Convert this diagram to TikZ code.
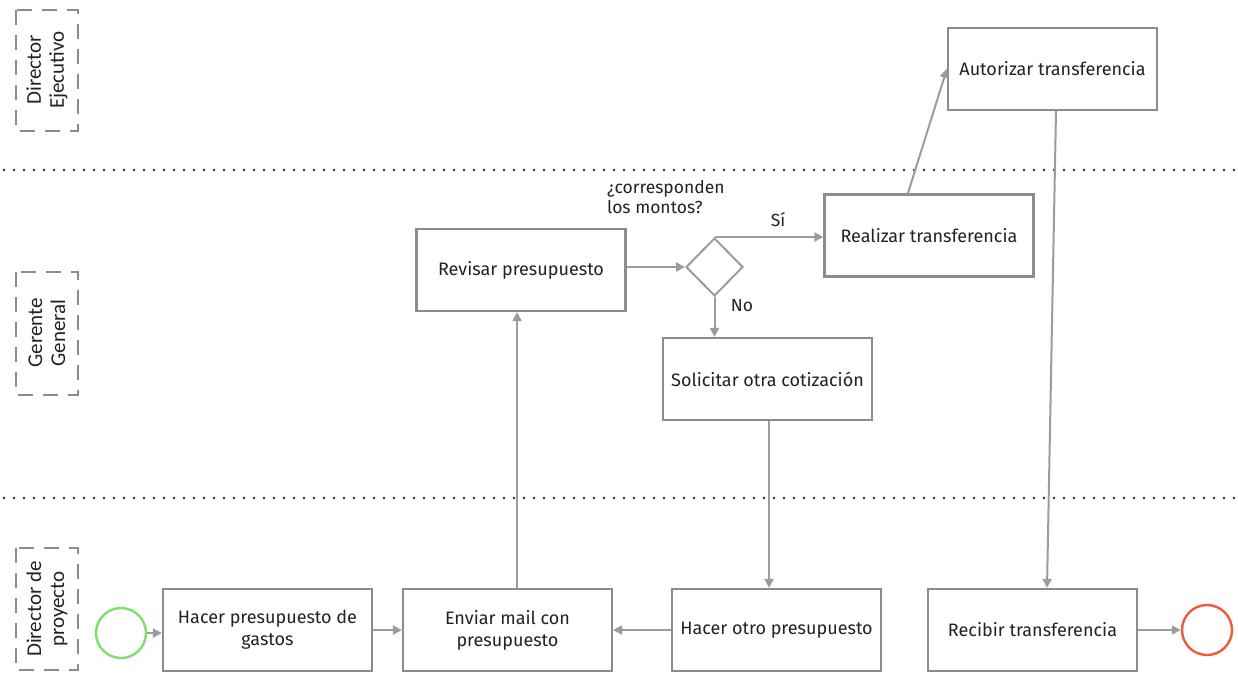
\documentclass[tikz,border=0pt]{standalone}
\usepackage{fontspec}
\setmainfont{Fira Sans}
\newfontfamily\lanefont{Carlito}
\usetikzlibrary{shapes.geometric,arrows.meta,calc}
\definecolor{edge}{HTML}{8C8C8C}
\definecolor{flow}{HTML}{9A9C9F}
\definecolor{txt}{HTML}{222222}
\definecolor{startc}{HTML}{7EE06A}
\definecolor{endc}{HTML}{EE5A3A}
\tikzset{
  task/.style={draw=edge, line width=2.2pt, fill=white, minimum width=209pt, minimum height=82pt,
    align=center, text=txt, font=\fontsize{18}{22}\selectfont, inner sep=2pt},
  gate/.style={draw=flow, line width=2pt, diamond, minimum width=57pt, minimum height=58pt, inner sep=0pt},
  flowline/.style={draw=flow, line width=2pt, -{Triangle[length=9pt,width=9pt]}},
  lanebox/.style={draw=edge, line width=2.4pt, dash pattern=on 15pt off 10pt},
  lanetext/.style={rotate=90, align=center, text=txt, font=\lanefont\fontsize{21}{23}\selectfont},
  divider/.style={line width=2.8pt, dash pattern=on 0pt off 10pt, line cap=round, draw=black!85},
  lbl/.style={text=txt, font=\fontsize{17.5}{20}\selectfont, align=left, inner sep=0pt},
  event/.style={circle, line width=2.4pt, minimum size=50pt, inner sep=0pt, fill=white}
}
\begin{document}
\begin{tikzpicture}[x=1pt,y=-1pt]
\useasboundingbox (0,0) rectangle (1238,673);

% lane separators
\draw[divider] (4,170) -- (1238,170);
\draw[divider] (4,498) -- (1238,498);

% lane headers
\draw[lanebox] (16,10) rectangle (78,131);
\node[lanetext] (l1) at (47,70) {Director\\Ejecutivo};
\draw[lanebox] (16,272) rectangle (78,395);
\node[lanetext] (l2) at (47,333) {Gerente\\General};
\draw[lanebox] (16,548) rectangle (78,670);
\node[lanetext] (l3) at (47,609) {Director de\\proyecto};

% tasks
\node[task] (auth) at (1052.5,69) {Autorizar transferencia};
\node[task] (real) at (929,235.5) {Realizar transferencia};
\node[task] (rev) at (521,270) {Revisar presupuesto};
\node[gate] (dec) at (714.5,267) {};
\node[task] (sol) at (767.5,379) {Solicitar otra cotización};
\node[task] (hacer) at (267.5,630) {Hacer presupuesto de\\gastos};
\node[task] (env) at (507.5,630) {Enviar mail con\\presupuesto};
\node[task] (otro) at (776.5,630) {Hacer otro presupuesto};
\node[task] (recv) at (1032.5,630) {Recibir transferencia};

% events
\node[event, draw=startc] (start) at (121,633) {};
\node[event, draw=endc] (stop) at (1207,630) {};

% labels
\node[lbl, anchor=north west] (q) at (607,180) {¿corresponden\\los montos?};
\node[lbl] (si) at (778,220) {Sí};
\node[lbl] (no) at (742,306) {No};

% flows
\draw[flowline] (start.east) -- (hacer.west |- start.east);
\draw[flowline] (hacer.east) -- (env.west);
\draw[flowline] (env.north -| 517,0) -- (rev.south -| 517,0);
\draw[flowline] (rev.east |- dec.west) -- (dec.west);
\draw[flowline] (dec.north) -- (dec.north -| real.west);
\draw[flowline] (dec.south) -- (sol.north -| dec.south);
\draw[flowline] (sol.south -| 769,0) -- (otro.north -| 769,0);
\draw[flowline] (otro.west) -- (env.east);
\draw[flowline] ($(real.north west)!0.4!(real.north east)$) -- (auth.west);
\draw[flowline] ($(auth.south)+(3.5,0)$) -- ($(recv.north)+(14.5,0)$);
\draw[flowline] (recv.east) -- (stop.west);
\end{tikzpicture}
\end{document}
